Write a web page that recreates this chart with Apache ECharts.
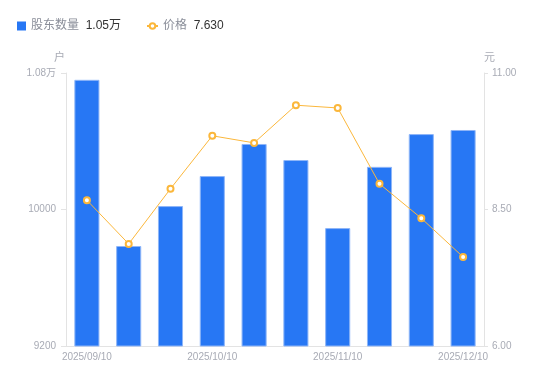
<!DOCTYPE html>
<html><head><meta charset="utf-8">
<script src="https://cdn.jsdelivr.net/npm/echarts@6/dist/echarts.min.js"></script>
<style>html,body{margin:0;padding:0;background:#fff}#c{width:550px;height:381px}</style>
</head><body><div id="c"></div>
<script>
const categories = ['2025/09/10','2025/09/20','2025/09/30','2025/10/10','2025/10/20','2025/10/31','2025/11/10','2025/11/20','2025/11/30','2025/12/10'];
const holders = [10760, 9786, 10020, 10196, 10384, 10290, 9891, 10250, 10442, 10466];
const prices = [8.67, 7.87, 8.88, 9.85, 9.72, 10.41, 10.36, 8.97, 8.34, 7.63];
const leftTicks = [9200, 10000, 10800];
const rightTicks = [6.00, 8.50, 11.00];

const FONT = '"Liberation Sans","Noto Sans CJK SC",sans-serif';
const chart = echarts.init(document.getElementById('c'));
const lastH = holders[holders.length-1];
const lastP = prices[prices.length-1];
const legendText = {rich:{a:{color:'#8a8e99',fontSize:12,fontFamily:FONT},b:{color:'#333',fontSize:12,fontFamily:FONT}}};
const fmt = function(n){
  if(n==='股东数量') return '{a|'+n+'}  {b|'+(lastH/10000).toFixed(2)+'万}';
  return '{a|'+n+'}  {b|'+lastP.toFixed(3)+'}';
};
chart.setOption({
  animation:false,
  textStyle:{fontFamily:FONT},
  legend:[{
    left:12, top:15, itemWidth:9, itemHeight:9,
    data:[{name:'股东数量', icon:'rect', itemStyle:{borderWidth:0}}],
    formatter:fmt, textStyle:legendText
  },{
    left:141, top:15, itemWidth:11, itemHeight:7,
    data:[{name:'价格'}],
    formatter:fmt, textStyle:legendText
  }],
  grid:{left:66,right:66,top:73,bottom:35},
  xAxis:{
    type:'category', data:categories,
    axisLine:{lineStyle:{color:'#e3e3e3'}},
    axisTick:{show:false},
    axisLabel:{color:'#a8abb5',fontSize:10,interval:2,margin:6,fontFamily:FONT}
  },
  yAxis:[{
    type:'value', min:leftTicks[0], max:leftTicks[2], interval:leftTicks[1]-leftTicks[0],
    name:'户', nameGap:10, nameTextStyle:{color:'#a8abb5',fontSize:11,align:'right',padding:[0,1,0,0]},
    axisLine:{show:true,lineStyle:{color:'#e3e3e3'}},
    axisTick:{show:true,length:5,lineStyle:{color:'#e3e3e3'}},
    splitLine:{show:false},
    axisLabel:{color:'#a8abb5',fontSize:10,margin:10,fontFamily:FONT,
      formatter:function(v){return v>10000?(v/10000).toFixed(2)+'万':String(v);}}
  },{
    type:'value', min:rightTicks[0], max:rightTicks[2], interval:rightTicks[1]-rightTicks[0],
    name:'元', nameGap:10, nameTextStyle:{color:'#a8abb5',fontSize:11,align:'left',padding:[0,0,0,0]},
    axisLine:{show:true,lineStyle:{color:'#e3e3e3'}},
    axisTick:{show:true,length:4,lineStyle:{color:'#e3e3e3'}},
    splitLine:{show:false},
    axisLabel:{color:'#a8abb5',fontSize:10,margin:8,fontFamily:FONT,formatter:function(v){return v.toFixed(2);}}
  }],
  series:[{
    name:'股东数量', type:'bar', data:holders, barWidth:'60%',
    itemStyle:{color:'#2777f4',borderColor:'#8fb6f8',borderWidth:1}
  },{
    name:'价格', type:'line', yAxisIndex:1, data:prices,
    symbol:'emptyCircle', symbolSize:6,
    lineStyle:{color:'#fbb73b',width:1},
    itemStyle:{color:'#fbb73b',borderWidth:2}
  }]
});
</script></body></html>
